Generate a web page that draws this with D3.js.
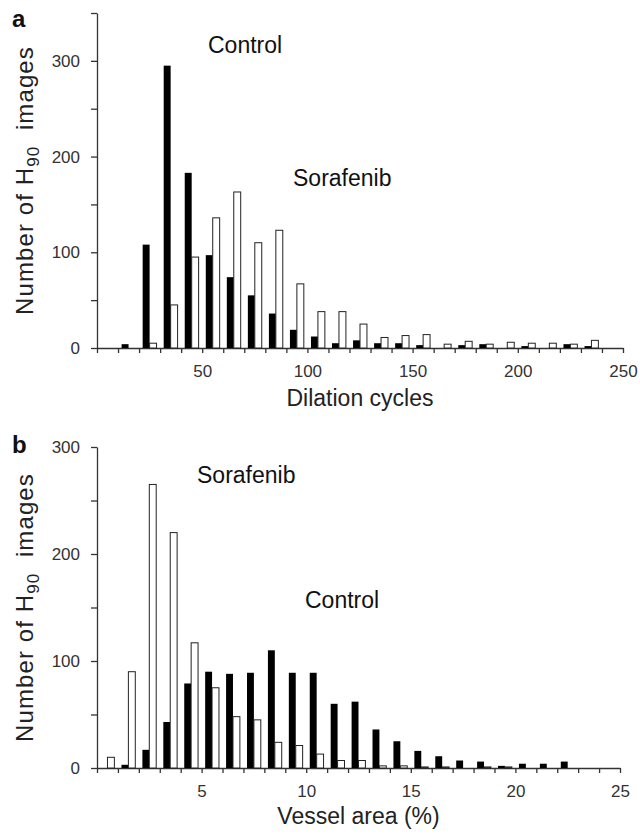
<!DOCTYPE html>
<html>
<head>
<meta charset="utf-8">
<script src="https://cdn.jsdelivr.net/npm/d3@7"></script>
<style>
  body { margin: 0; background: #fff; }
  svg { display: block; font-family: "Liberation Sans", Arial, sans-serif; }
  .axis path, .axis line { stroke: #333; stroke-width: 1.3; }
  .axis text { font-size: 17px; fill: #333; font-family: "Liberation Sans", Arial, sans-serif; }
</style>
</head>
<body>
<div id="chart"></div>
<script>
// Panel a: dilation cycles, bins of 10
const cyclesBins = [0, 10, 20, 30, 40, 50, 60, 70, 80, 90, 100, 110, 120, 130, 140, 150, 160, 170, 180, 190, 200, 210, 220, 230, 240];
const cyclesControl = [0, 4, 108, 295, 183, 97, 74, 55, 36, 19, 12, 5, 8, 5, 5, 3, 0, 3, 4, 0, 2, 0, 4, 2, 0];
const cyclesSorafenib = [0, 0, 5, 45, 95, 136, 163, 110, 123, 67, 38, 38, 25, 11, 13, 14, 4, 7, 4, 6, 5, 5, 4, 8, 0];
const cyclesXLabels = [50, 100, 150, 200, 250];

// Panel b: vessel area (%), bins of 1
const areaBins = [0, 1, 2, 3, 4, 5, 6, 7, 8, 9, 10, 11, 12, 13, 14, 15, 16, 17, 18, 19, 20, 21, 22, 23, 24];
const areaControl = [0, 3, 17, 43, 79, 90, 88, 89, 110, 89, 89, 60, 62, 36, 25, 16, 11, 7, 6, 2, 4, 4, 6, 0, 0];
const areaSorafenib = [10, 90, 265, 220, 117, 75, 48, 45, 24, 21, 13, 7, 7, 2, 2, 1, 1, 0, 1, 1, 0, 0, 0, 0, 0];
const areaXLabels = [5, 10, 15, 20, 25];

const yLabels = [0, 100, 200, 300];

const svg = d3.select("#chart")
  .append("svg")
  .attr("width", 640)
  .attr("height", 836);

function drawPanel(opt) {
  const x = d3.scaleLinear().domain([0, opt.xMax]).range([97, opt.right]);
  const y = d3.scaleLinear().domain([0, opt.yMax]).range([opt.bottom, opt.top]);
  const binW = opt.binSize;
  const barW = binW * 0.33;

  // Minor x ticks (no labels)
  svg.append("g")
    .attr("class", "axis")
    .attr("transform", `translate(0,${opt.bottom})`)
    .call(d3.axisBottom(x).tickValues(d3.range(0, opt.xMax + binW / 2, binW)).tickSize(5).tickSizeOuter(0).tickFormat(""));

  // X labels
  const xl = svg.append("g")
    .attr("class", "axis")
    .attr("transform", `translate(0,${opt.bottom})`)
    .call(d3.axisBottom(x).tickValues(opt.xLabels).tickSize(0).tickPadding(17));
  xl.select(".domain").remove();

  // Y ticks every 50
  svg.append("g")
    .attr("class", "axis")
    .attr("transform", "translate(97,0)")
    .call(d3.axisLeft(y).tickValues(d3.range(0, opt.yMax + 1, 50)).tickSize(6).tickSizeOuter(0).tickFormat(""));

  const yl = svg.append("g")
    .attr("class", "axis")
    .attr("transform", "translate(97,0)")
    .call(d3.axisLeft(y).tickValues(yLabels).tickSize(0).tickPadding(17));
  yl.select(".domain").remove();

  // Control bars (black), left half of bin
  svg.selectAll(null)
    .data(opt.bins.map((b, i) => ({ b, v: opt.control[i] })).filter(d => d.v > 0))
    .enter()
    .append("rect")
    .attr("x", d => x(d.b + binW / 2 - barW))
    .attr("y", d => y(d.v))
    .attr("width", d => x(barW) - x(0))
    .attr("height", d => y(0) - y(d.v))
    .attr("fill", "#000");

  // Sorafenib bars (white, outlined), right half of bin
  svg.selectAll(null)
    .data(opt.bins.map((b, i) => ({ b, v: opt.sorafenib[i] })).filter(d => d.v > 0))
    .enter()
    .append("rect")
    .attr("x", d => x(d.b + binW / 2))
    .attr("y", d => y(d.v))
    .attr("width", d => x(barW) - x(0))
    .attr("height", d => y(0) - y(d.v))
    .attr("fill", "#fff")
    .attr("stroke", "#222")
    .attr("stroke-width", 1);

  // Panel letter
  svg.append("text")
    .attr("x", 12)
    .attr("y", opt.letterY)
    .style("font-size", "24px")
    .style("font-weight", "bold")
    .attr("fill", "#111")
    .text(opt.letter);

  // X title
  svg.append("text")
    .attr("x", (97 + opt.right) / 2)
    .attr("y", opt.xTitleY)
    .attr("text-anchor", "middle")
    .style("font-size", "23px")
    .attr("fill", "#222")
    .text(opt.xTitle);

  // Y title with subscript
  const cy = (opt.top + opt.bottom) / 2;
  const yt = svg.append("text")
    .attr("transform", `translate(33,${cy}) rotate(-90)`)
    .attr("text-anchor", "middle")
    .style("font-size", "24px")
    .style("letter-spacing", "1.1px")
    .attr("fill", "#222");
  yt.append("tspan").text("Number of H");
  yt.append("tspan").attr("dy", 6).style("font-size", "17px").text("90");
  yt.append("tspan").attr("dy", -6).text("\u00a0 images");

  // Series labels
  opt.labels.forEach(l => {
    svg.append("text")
      .attr("x", l.x)
      .attr("y", l.y)
      .style("font-size", "23px")
      .attr("fill", "#111")
      .text(l.text);
  });
}

drawPanel({
  bins: cyclesBins, control: cyclesControl, sorafenib: cyclesSorafenib,
  xLabels: cyclesXLabels, xMax: 250, binSize: 10, right: 623,
  yMax: 350, top: 13, bottom: 348,
  letter: "a", letterY: 27, xTitle: "Dilation cycles", xTitleY: 406,
  labels: [{ text: "Control", x: 208, y: 53 }, { text: "Sorafenib", x: 293, y: 186 }]
});

drawPanel({
  bins: areaBins, control: areaControl, sorafenib: areaSorafenib,
  xLabels: areaXLabels, xMax: 25, binSize: 1, right: 620,
  yMax: 300, top: 447, bottom: 768,
  letter: "b", letterY: 453, xTitle: "Vessel area (%)", xTitleY: 824,
  labels: [{ text: "Sorafenib", x: 197, y: 483 }, { text: "Control", x: 305, y: 608 }]
});
</script>
</body>
</html>
